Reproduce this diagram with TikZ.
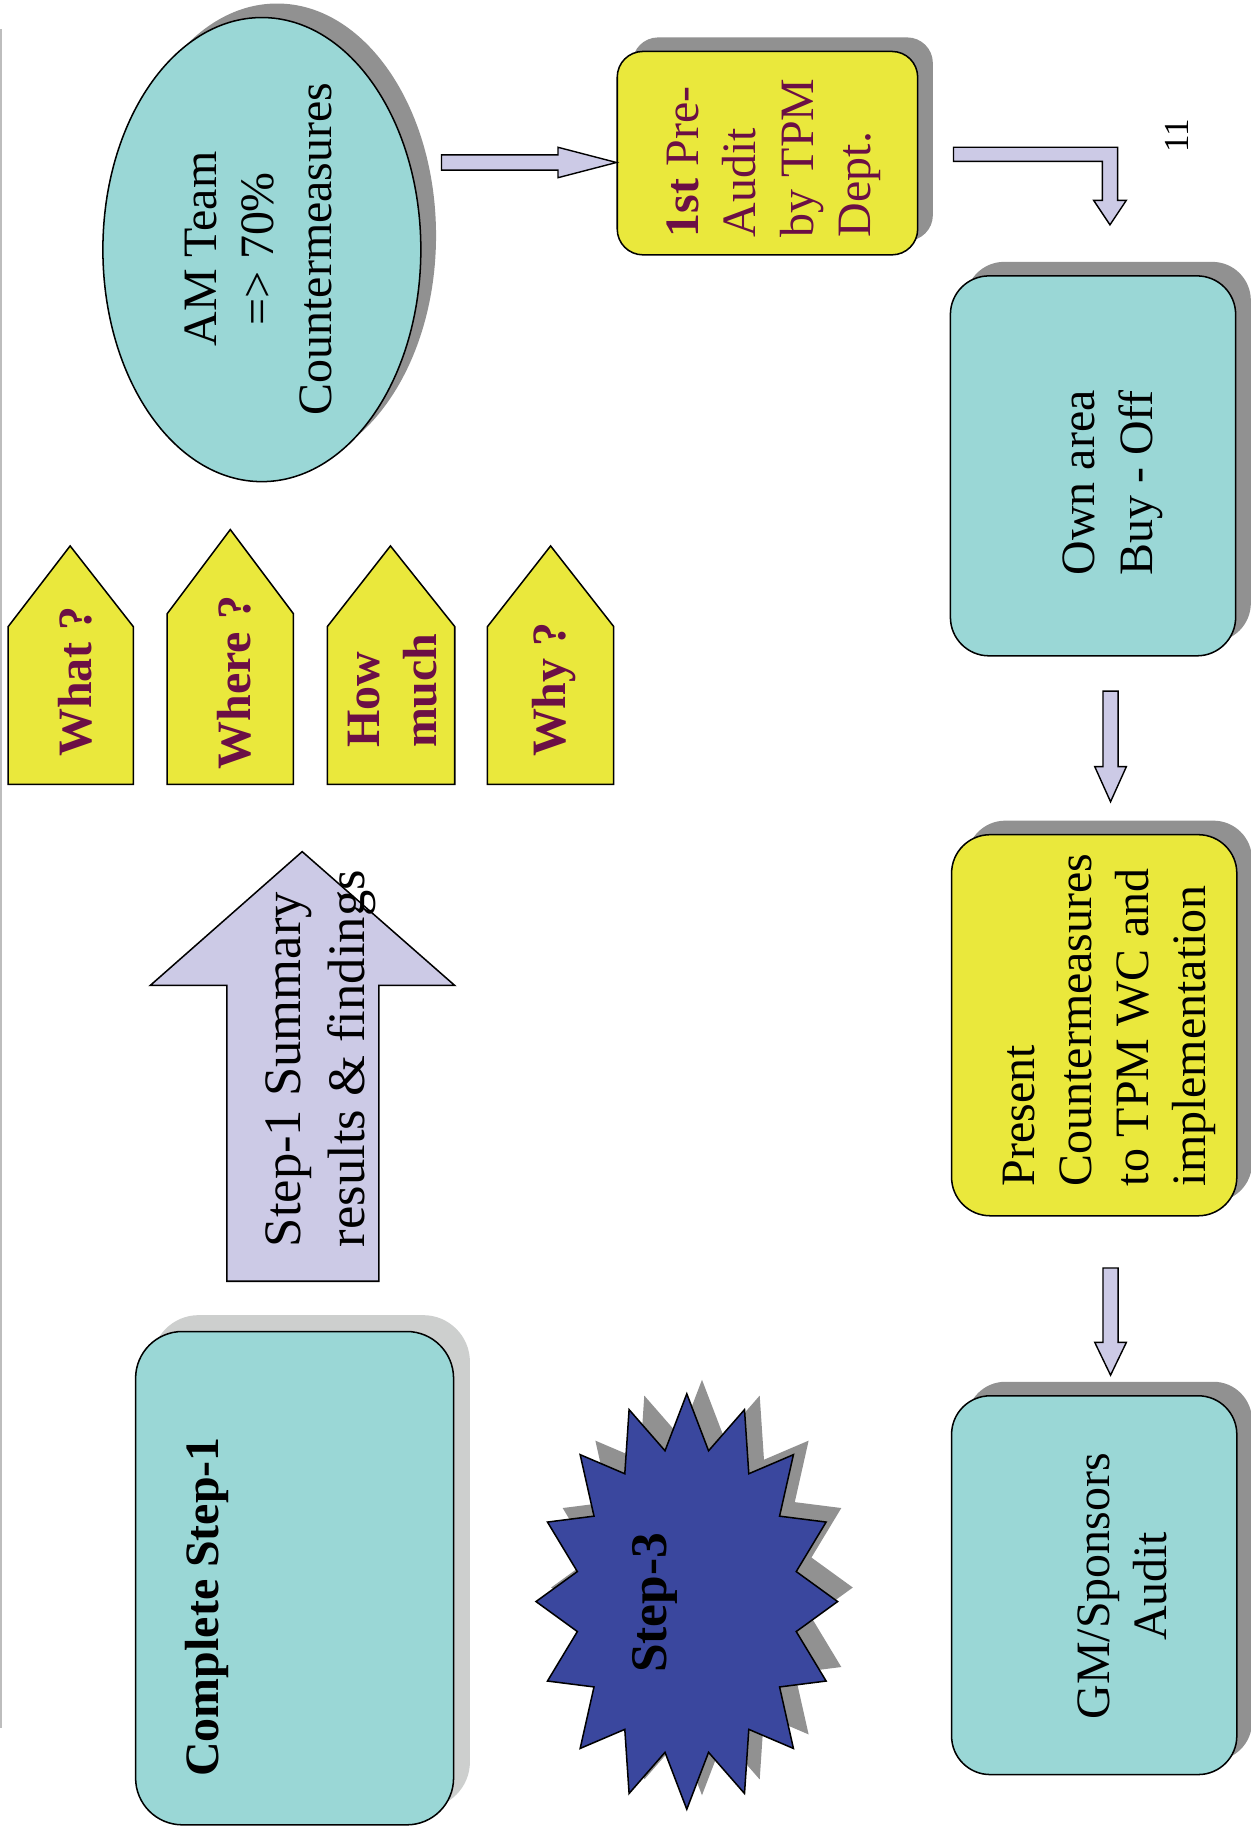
\documentclass[tikz,border=0pt]{standalone}
\usepackage{fontspec}
\setmainfont{Liberation Serif}
\usetikzlibrary{shapes.geometric,shadows,calc}
\definecolor{cyanfill}{HTML}{9AD7D6}
\definecolor{yel}{HTML}{EAE83C}
\definecolor{lav}{HTML}{CCCAE6}
\definecolor{maroontxt}{HTML}{6B0F45}
\definecolor{starblue}{HTML}{3A479E}
\definecolor{shgray}{HTML}{919191}
\definecolor{shlight}{HTML}{CDCFCE}
\definecolor{edgegray}{HTML}{BDBDBD}
\newcommand{\hblockarrow}[5]{\draw[barrow] let \p1=(#1),\p2=(#2) in (\x1,\y1+#3) -- (\x2-#5,\y1+#3) -- (\x2-#5,\y1+#4) -- (\x2,\y1) -- (\x2-#5,\y1-#4) -- (\x2-#5,\y1-#3) -- (\x1,\y1-#3) -- cycle;}
\newcommand{\vblockarrow}[5]{\draw[barrow] let \p1=(#1),\p2=(#2) in (\x1-#3,\y1) -- (\x1-#3,\y2+#5) -- (\x1-#4,\y2+#5) -- (\x1,\y2) -- (\x1+#4,\y2+#5) -- (\x1+#3,\y2+#5) -- (\x1+#3,\y1) -- cycle;}
\begin{document}
\begin{tikzpicture}[x=1pt,y=-1pt,
  shp/.style={draw=black, line width=1.3pt, inner sep=0pt},
  sh/.style={drop shadow={shadow xshift=13pt, shadow yshift=12pt, fill=shgray, opacity=1}},
  shl/.style={drop shadow={shadow xshift=14pt, shadow yshift=14pt, fill=shlight, opacity=1}},
  txt/.style={rotate=90, inner sep=0pt, font=\fontsize{41}{49}\selectfont},
  tagtxt/.style={rotate=90, inner sep=0pt, text=maroontxt, font=\fontsize{41}{49}\selectfont\bfseries},
  barrow/.style={draw=black, line width=1.2pt, fill=lav, line join=miter},
  tagbox/.style={draw=black, line width=1.3pt, fill=yel, line join=miter}]
\fill[white] (0,0) rectangle (1070,1568);
\useasboundingbox (0,0) rectangle (1070,1568);
\draw[edgegray, line width=1.5pt] (1,25) -- (1,1478);

% main shapes
\node[shp, sh, ellipse, fill=cyanfill, minimum width=272pt, minimum height=397pt] (ell) at (224,213.5) {};
\node[shp, sh, rectangle, rounded corners=22pt, fill=yel, minimum width=257pt, minimum height=174pt] (pre) at (656.5,131) {};
\node[shp, sh, rectangle, rounded corners=33pt, fill=cyanfill, minimum width=244pt, minimum height=325pt] (own) at (935,398.5) {};
\node[shp, sh, rectangle, rounded corners=33pt, fill=yel, minimum width=244pt, minimum height=326pt] (pres) at (936,877) {};
\node[shp, sh, rectangle, rounded corners=33pt, fill=cyanfill, minimum width=244pt, minimum height=324pt] (gm) at (936,1356) {};
\node[shp, shl, rectangle, rounded corners=40pt, fill=cyanfill, minimum width=272pt, minimum height=422pt] (c1) at (252,1350) {};

% tags
\draw[tagbox] (7,671) -- (7,536) -- (60,467) -- (114,536) -- (114,671) -- cycle;
\draw[tagbox] (143,671) -- (143,525) -- (197,453) -- (251,525) -- (251,671) -- cycle;
\draw[tagbox] (280,671) -- (280,536) -- (334,467) -- (389,536) -- (389,671) -- cycle;
\draw[tagbox] (417,671) -- (417,536) -- (471,467) -- (525,536) -- (525,671) -- cycle;

% big up arrow
\draw[barrow, line width=1.3pt] (194,1096) -- (194,843) -- (128.5,843) -- (258.5,728.5) -- (389,843) -- (324,843) -- (324,1096) -- cycle;

% star
\fill[shgray] plot[samples at={0,1,...,31}, variable=\t] ({600.5+129*(1-0.26*mod(\t,2))*cos(90-11.25*\t)}, {1358-177.7*(1-0.26*mod(\t,2))*sin(90-11.25*\t)}) -- cycle;
\draw[fill=starblue, draw=black, line width=1.3pt, line join=miter] plot[samples at={0,1,...,31}, variable=\t] ({587.5+129*(1-0.26*mod(\t,2))*cos(90-11.25*\t)}, {1370-177.7*(1-0.26*mod(\t,2))*sin(90-11.25*\t)}) -- cycle;

% texts
\node[txt, align=center] (tell) at (221,213) {AM Team\\=> 70\%\\Countermeasures};
\node[txt, align=left, anchor=west, text=maroontxt] (tpre) at (662,203) {\textbf{1st} Pre-\\Audit\\by TPM\\Dept.};
\node[txt, align=center] (town) at (952,413) {Own area\\Buy - Off};
\node[txt, align=left, anchor=west] (tpres) at (949,1015) {Present\\Countermeasures\\to TPM WC and\\implementation};
\node[txt, align=center] (tgm) at (960,1357) {GM/Sponsors\\Audit};
\node[tagtxt] (twhat) at (64,583) {What ?};
\node[tagtxt] (twhere) at (200.5,584) {Where ?};
\node[tagtxt, align=left, anchor=west] (thow) at (336,640) {How\\much};
\node[tagtxt] (twhy) at (474,590) {Why ?};
\node[txt, font=\fontsize{45}{54.5}\selectfont, align=left, anchor=west] (tsum) at (274.5,1067) {Step-1 Summary\\results \& findings};
\node[txt, font=\fontsize{41}{49}\selectfont\bfseries, anchor=west] (tc1) at (177,1520) {Complete Step-1};
\node[txt, font=\fontsize{44}{50}\selectfont\bfseries] (ts3) at (560,1371) {Step-3};
\node[txt, font=\fontsize{30}{36}\selectfont] (pg) at (1007,116) {11};

% connectors
\coordinate (a1s) at ($(ell.east)+(17,-74.5)$);
\coordinate (a1e) at ($(pre.west)+(0,8)$);
\hblockarrow{a1s}{a1e}{6.5pt}{13pt}{50pt}

\coordinate (a2s) at ($(pre.east)+(30,1)$);
\coordinate (a2e) at ($(own.north)+(14.5,-43)$);
\draw[barrow] let \p1=(a2s),\p2=(a2e) in
  (\x1,\y1+6pt) -- (\x2+6.5pt,\y1+6pt) -- (\x2+6.5pt,\y2+21pt) -- (\x2+14pt,\y2+21pt) -- (\x2,\y2)
  -- (\x2-14pt,\y2+21pt) -- (\x2-6.5pt,\y2+21pt) -- (\x2-6.5pt,\y1-6pt) -- (\x1,\y1-6pt) -- cycle;

\coordinate (a3s) at ($(own.south)+(15,29.5)$);
\coordinate (a3e) at ($(pres.north)+(14,-27.5)$);
\vblockarrow{a3s}{a3e}{6.5pt}{13.5pt}{30pt}

\coordinate (a4s) at ($(pres.south)+(14,44)$);
\coordinate (a4e) at ($(gm.north)+(14,-17)$);
\vblockarrow{a4s}{a4e}{6.5pt}{13.5pt}{28pt}
\end{tikzpicture}
\end{document}
